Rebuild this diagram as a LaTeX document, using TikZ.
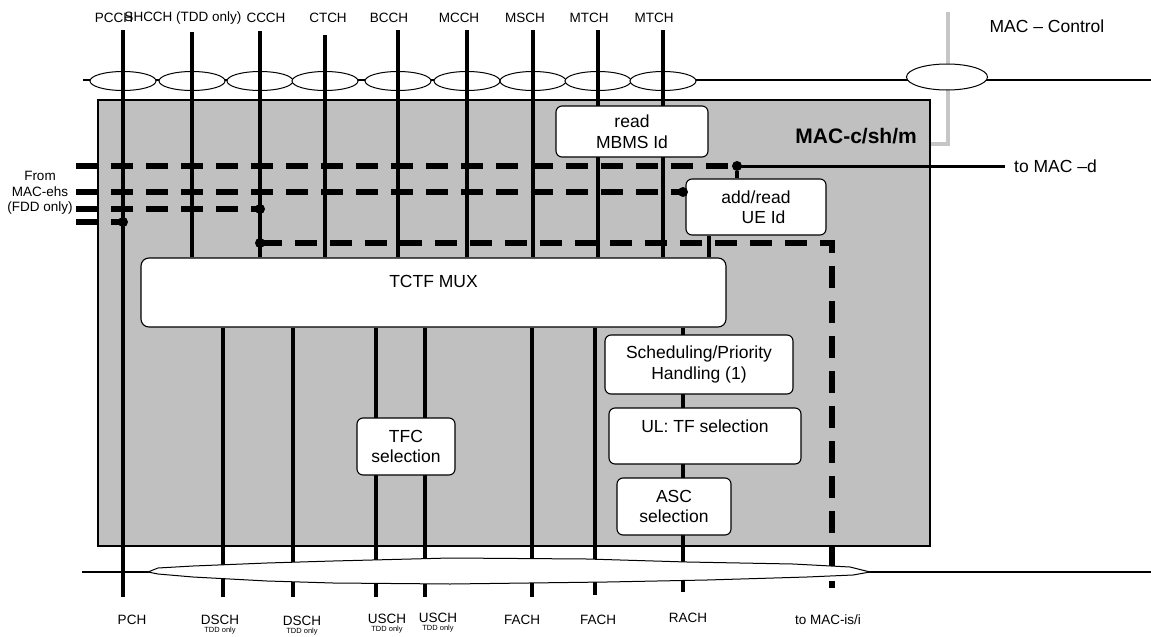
\documentclass[tikz,border=0pt]{standalone}
\usepackage{fontspec}
\setmainfont{Liberation Sans}
\usepackage{tikz}
\usetikzlibrary{positioning,shapes.geometric,calc}
\definecolor{macgray}{HTML}{C0C0C0}
\definecolor{ctrlgray}{HTML}{C6C6C6}
\pgfdeclarelayer{back}
\pgfdeclarelayer{mid}
\pgfsetlayers{back,mid,main}

\begin{document}
\begin{tikzpicture}[x=1pt, y=-1pt,
    bus/.style={line width=2.4pt},
    chan/.style={line width=4pt},
    ehs/.style={line width=6pt, dash pattern=on 22pt off 13pt},
    chanell/.style={
        ellipse, draw, fill=white, line width=1pt,
        minimum width=66pt, minimum height=19pt, inner sep=0pt
    },
    fnbox/.style={
        rectangle, rounded corners=6pt, draw, fill=white, line width=1.1pt,
        align=center, inner sep=0pt, font=\fontsize{17.5}{20.5}\selectfont
    },
    joint/.style={circle, fill=black, inner sep=0pt, minimum size=10pt},
    chanlabel/.style={font=\fontsize{13.5}{15.5}\selectfont, inner sep=0pt},
    tddnote/.style={font=\fontsize{7.5}{8}\selectfont, inner sep=0pt},
    bigtext/.style={font=\fontsize{17.5}{20}\selectfont, inner sep=0pt},
    ribbon/.style={draw, fill=white, line width=1pt}
]
\useasboundingbox (0,0) rectangle (1151,637);

% Channel end points
\coordinate (pcch)  at (123,30);
\coordinate (shcch) at (192,32);
\coordinate (ccch)  at (260,31);
\coordinate (ctch)  at (325,35);
\coordinate (bcch)  at (398,30);
\coordinate (mcch)  at (467,30);
\coordinate (msch)  at (533,30);
\coordinate (mtcha) at (598,30);
\coordinate (mtchb) at (663,30);
\coordinate (pch)   at (123,597);
\coordinate (dscha) at (223,597);
\coordinate (dschb) at (293,597);
\coordinate (uscha) at (376,597);
\coordinate (uschb) at (425,597);
\coordinate (facha) at (532,597);
\coordinate (fachb) at (595,595);
\coordinate (rach)  at (683,592);
\coordinate (ueline) at (709,0);

% MAC-c/sh/m entity, buses and ellipses
\begin{pgfonlayer}{back}
\node[draw, fill=macgray, line width=1.2pt, minimum width=832pt, minimum height=446pt,
      inner sep=0pt] (mac) at (514,323) {};
\coordinate (topl) at (83,80);
\coordinate (topr) at (1151,80);
\draw[bus] (topl) -- (topr);
\coordinate (botl) at (82,572);
\coordinate (botr) at (1151,572);
\draw[bus] (botl) -- (botr);
\coordinate (ctrltop) at (948,12);
\coordinate (ctrlbend) at (948,144);
\draw[line width=4pt, ctrlgray] (ctrltop) -- (ctrlbend) -- (ctrlbend -| mac.east);
\foreach \x [count=\i] in {123,192,260,325,398,467,533,598,663}
    \node[chanell] (ell\i) at (\x,81) {};
\node[chanell, minimum width=81pt, minimum height=26pt] (ctrlell) at (947,77) {};
\end{pgfonlayer}

% Function blocks
\node[fnbox, minimum width=152pt, minimum height=51pt] (mbms) at (632,131.5) {read\\MBMS Id};
\node[fnbox, minimum width=140pt, minimum height=56pt] (ue) at (756,207) {add/read\\\hspace*{15pt}UE Id};
\node[fnbox, minimum width=585pt, minimum height=69pt, rounded corners=8pt, text depth=22pt] (mux) at (433.5,292.5) {TCTF MUX};
\node[fnbox, minimum width=188pt, minimum height=59pt] (sched) at (699,364.5) {Scheduling/Priority\\Handling (1)};
\node[fnbox, minimum width=192pt, minimum height=56pt, text depth=20pt] (ultf) at (705,436) {UL: TF selection};
\node[fnbox, minimum width=114pt, minimum height=57pt] (asc) at (674,506.5) {ASC\\selection};
\node[fnbox, minimum width=98pt, minimum height=57pt] (tfc) at (406,446.5) {TFC\\selection};

% Joints
\node[joint] (jmacd)  at (737,166) {};
\node[joint] (jue)    at (683,192) {};
\node[joint] (jccch)  at (260,209) {};
\node[joint] (jpcch)  at (123,222) {};
\node[joint] (jmacis) at (260,243) {};

% Logical and transport channels
\begin{pgfonlayer}{mid}
\draw[chan] (pcch) -- (pch);
\foreach \c in {shcch,ccch,ctch,bcch,mcch,msch,mtcha,mtchb}
    \draw[chan] (\c) -- (\c |- mux.north);
\draw[chan] (ueline |- ue.south) -- (ueline |- mux.north);
\draw[chan] (jmacd) -- (jmacd |- ue.north);
\foreach \c in {dscha,dschb,uscha,uschb,facha,fachb,rach}
    \draw[chan] (\c |- mux.south) -- (\c);
\end{pgfonlayer}

% From MAC-ehs (dashed)
\coordinate (ehsa) at (76,166);
\coordinate (ehsb) at (76,192);
\coordinate (ehsc) at (76,209);
\coordinate (ehsd) at (76,222);
\draw[ehs] (ehsa) -- (jmacd.center);
\draw[ehs] (ehsb) -- (jue.center);
\draw[ehs] (ehsc) -- (jccch.center);
\draw[ehs] (ehsd) -- (jpcch.center);

% To MAC-d and MAC-is/i
\node[bigtext, anchor=west] (tomacd) at (1014,166) {to MAC –d};
\draw[line width=3pt] (jmacd.center) -- ([xshift=-9pt]tomacd.west);
\coordinate (macisbend) at (832,243);
\coordinate (tomacis) at (832,588);
\draw[ehs] (jmacis.center) -- (macisbend) -- (tomacis);

% Transport channel bundle
\draw[ribbon] (148,572) -- (158,568) -- (193,566) -- (267,563) -- (333,561) -- (450,558)
    -- (587,559) -- (687,562) -- (793,564) -- (850,567) -- (870,572) -- (853,575)
    -- (807,577) -- (707,580) -- (607,582) -- (450,584) -- (333,583) -- (267,581)
    -- (193,577) -- (158,574) -- cycle;

% Top labels
\node[chanlabel] (lpcch)  at (114,18) {PCCH};
\node[chanlabel] (lshcch) at (183,18) {SHCCH (TDD only)};
\node[chanlabel] (lccch)  at (266,18) {CCCH};
\node[chanlabel] (lctch)  at (328,18) {CTCH};
\node[chanlabel] (lbcch)  at (389,18) {BCCH};
\node[chanlabel] (lmcch)  at (459,18) {MCCH};
\node[chanlabel] (lmsch)  at (525,18) {MSCH};
\node[chanlabel] (lmtcha) at (589,18) {MTCH};
\node[chanlabel] (lmtchb) at (654,18) {MTCH};
\node[bigtext] (ctrllabel) at (1047,26) {MAC – Control};
\node[font=\bfseries\fontsize{21}{24}\selectfont, anchor=east, inner sep=0pt] (macname) at (917,136) {MAC-c/sh/m};
\node[chanlabel, align=center] (fromehs) at (40,193) {From\\MAC-ehs\\(FDD only)};

% Bottom labels
\node[chanlabel] (lpch)   at (132,620) {PCH};
\node[chanlabel] (ldscha) at (220,620) {DSCH};
\node[chanlabel] (ldschb) at (302,621) {DSCH};
\node[chanlabel] (luscha) at (387,619) {USCH};
\node[chanlabel] (luschb) at (438,618) {USCH};
\node[chanlabel] (lfacha) at (522,620) {FACH};
\node[chanlabel] (lfachb) at (598,620) {FACH};
\node[chanlabel] (lrach)  at (688,618) {RACH};
\node[chanlabel] (lmacis) at (828,620) {to MAC-is/i};
\node[tddnote, below=2pt of ldscha] (tdda) {TDD only};
\node[tddnote, below=2pt of ldschb] (tddb) {TDD only};
\node[tddnote, below=2pt of luscha] (tddc) {TDD only};
\node[tddnote, below=2pt of luschb] (tddd) {TDD only};

\end{tikzpicture}
\end{document}
